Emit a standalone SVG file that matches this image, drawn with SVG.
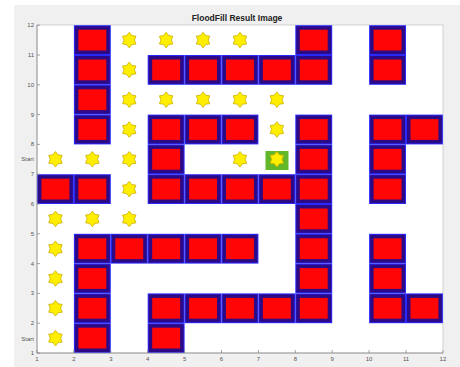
<svg xmlns="http://www.w3.org/2000/svg" xmlns:xlink="http://www.w3.org/1999/xlink" width="460" height="367" viewBox="0 0 460 367">
<style>
.tl{font-family:"Liberation Sans",Arial,sans-serif;font-size:6px;fill:#555}
.ttl{font-family:"Liberation Sans",Arial,sans-serif;font-size:8.5px;font-weight:bold;fill:#222}
.star{fill:#ffee00;stroke:#c9b000;stroke-width:0.8}
</style>
<defs>
<g id="blk">
<rect x="0" y="0" width="36.9" height="29.8" fill="#2a2aff"/>
<rect x="1" y="1" width="34.9" height="27.8" fill="#2c0a86"/>
<rect x="4.5" y="4.5" width="27.9" height="20.8" fill="#ff0505"/>
</g>
<path id="st" class="star" d="M0,-7.8 L2.6,-4.5 L6.75,-3.9 L5.2,0 L6.75,3.9 L2.6,4.5 L0,7.8 L-2.6,4.5 L-6.75,3.9 L-5.2,0 L-6.75,-3.9 L-2.6,-4.5 Z"/>
</defs>
<rect x="0" y="0" width="460" height="367" fill="#ffffff"/>
<rect x="14" y="5" width="446" height="362" fill="#f0f0f0"/>
<rect id="plot" x="37" y="25" width="406" height="328" fill="#ffffff" stroke="#c8c8c8" stroke-width="0.8"/>
<text class="ttl" x="237" y="21" text-anchor="middle">FloodFill Result Image</text>
<g id="blocks">
<use xlink:href="#blk" x="73.9" y="25.2"/><use xlink:href="#blk" x="295.3" y="25.2"/><use xlink:href="#blk" x="369.1" y="25.2"/>
<use xlink:href="#blk" x="73.9" y="55"/><use xlink:href="#blk" x="147.7" y="55"/><use xlink:href="#blk" x="184.6" y="55"/><use xlink:href="#blk" x="221.5" y="55"/><use xlink:href="#blk" x="258.4" y="55"/><use xlink:href="#blk" x="295.3" y="55"/><use xlink:href="#blk" x="369.1" y="55"/>
<use xlink:href="#blk" x="73.9" y="84.8"/>
<use xlink:href="#blk" x="73.9" y="114.6"/><use xlink:href="#blk" x="147.7" y="114.6"/><use xlink:href="#blk" x="184.6" y="114.6"/><use xlink:href="#blk" x="221.5" y="114.6"/><use xlink:href="#blk" x="295.3" y="114.6"/><use xlink:href="#blk" x="369.1" y="114.6"/><use xlink:href="#blk" x="406" y="114.6"/>
<use xlink:href="#blk" x="147.7" y="144.4"/><use xlink:href="#blk" x="295.3" y="144.4"/><use xlink:href="#blk" x="369.1" y="144.4"/>
<use xlink:href="#blk" x="37" y="174.2"/><use xlink:href="#blk" x="73.9" y="174.2"/><use xlink:href="#blk" x="147.7" y="174.2"/><use xlink:href="#blk" x="184.6" y="174.2"/><use xlink:href="#blk" x="221.5" y="174.2"/><use xlink:href="#blk" x="258.4" y="174.2"/><use xlink:href="#blk" x="295.3" y="174.2"/><use xlink:href="#blk" x="369.1" y="174.2"/>
<use xlink:href="#blk" x="295.3" y="204"/>
<use xlink:href="#blk" x="73.9" y="233.8"/><use xlink:href="#blk" x="110.8" y="233.8"/><use xlink:href="#blk" x="147.7" y="233.8"/><use xlink:href="#blk" x="184.6" y="233.8"/><use xlink:href="#blk" x="221.5" y="233.8"/><use xlink:href="#blk" x="295.3" y="233.8"/><use xlink:href="#blk" x="369.1" y="233.8"/>
<use xlink:href="#blk" x="73.9" y="263.6"/><use xlink:href="#blk" x="295.3" y="263.6"/><use xlink:href="#blk" x="369.1" y="263.6"/>
<use xlink:href="#blk" x="73.9" y="293.4"/><use xlink:href="#blk" x="147.7" y="293.4"/><use xlink:href="#blk" x="184.6" y="293.4"/><use xlink:href="#blk" x="221.5" y="293.4"/><use xlink:href="#blk" x="258.4" y="293.4"/><use xlink:href="#blk" x="295.3" y="293.4"/><use xlink:href="#blk" x="369.1" y="293.4"/><use xlink:href="#blk" x="406" y="293.4"/>
<use xlink:href="#blk" x="73.9" y="323.2"/><use xlink:href="#blk" x="147.7" y="323.2"/>
</g>
<rect id="goal" x="265.5" y="151" width="23" height="19" fill="#62b82a"/>
<g id="stars">
<use xlink:href="#st" x="129.25" y="40.1"/><use xlink:href="#st" x="166.15" y="40.1"/><use xlink:href="#st" x="203.05" y="40.1"/><use xlink:href="#st" x="239.95" y="40.1"/>
<use xlink:href="#st" x="129.25" y="69.9"/>
<use xlink:href="#st" x="129.25" y="99.7"/><use xlink:href="#st" x="166.15" y="99.7"/><use xlink:href="#st" x="203.05" y="99.7"/><use xlink:href="#st" x="239.95" y="99.7"/><use xlink:href="#st" x="276.85" y="99.7"/>
<use xlink:href="#st" x="129.25" y="129.5"/><use xlink:href="#st" x="276.85" y="129.5"/>
<use xlink:href="#st" x="55.45" y="159.3"/><use xlink:href="#st" x="92.35" y="159.3"/><use xlink:href="#st" x="129.25" y="159.3"/><use xlink:href="#st" x="239.95" y="159.3"/><use xlink:href="#st" x="276.85" y="159.3"/>
<use xlink:href="#st" x="129.25" y="189.1"/>
<use xlink:href="#st" x="55.45" y="218.9"/><use xlink:href="#st" x="92.35" y="218.9"/><use xlink:href="#st" x="129.25" y="218.9"/>
<use xlink:href="#st" x="55.45" y="248.7"/>
<use xlink:href="#st" x="55.45" y="278.5"/>
<use xlink:href="#st" x="55.45" y="308.3"/>
<use xlink:href="#st" x="55.45" y="338.1"/>
</g>
<g id="axes" stroke="#8a8a8a" stroke-width="0.8" fill="none">
<path d="M37,25 V353 H443"/>
<path d="M37,353 h3 M37,323.2 h3 M37,293.4 h3 M37,263.6 h3 M37,233.8 h3 M37,204 h3 M37,174.2 h3 M37,144.4 h3 M37,114.6 h3 M37,84.8 h3 M37,55 h3 M37,25.2 h3"/>
<path d="M37,353 v-3 M73.9,353 v-3 M110.8,353 v-3 M147.7,353 v-3 M184.6,353 v-3 M221.5,353 v-3 M258.4,353 v-3 M295.3,353 v-3 M332.2,353 v-3 M369.1,353 v-3 M406,353 v-3 M442.9,353 v-3"/>
</g>
<g id="ylabels" text-anchor="end">
<text class="tl" x="34" y="355">1</text>
<text class="tl" x="34" y="341">Start</text>
<text class="tl" x="34" y="325.2">2</text>
<text class="tl" x="34" y="295.4">3</text>
<text class="tl" x="34" y="265.6">4</text>
<text class="tl" x="34" y="235.8">5</text>
<text class="tl" x="34" y="206">6</text>
<text class="tl" x="34" y="176.2">7</text>
<text class="tl" x="34" y="161.3">Start</text>
<text class="tl" x="34" y="146.4">8</text>
<text class="tl" x="34" y="116.6">9</text>
<text class="tl" x="34" y="86.8">10</text>
<text class="tl" x="34" y="57">11</text>
<text class="tl" x="34" y="27.2">12</text>
</g>
<g id="xlabels" text-anchor="middle">
<text class="tl" x="37" y="361">1</text>
<text class="tl" x="73.9" y="361">2</text>
<text class="tl" x="110.8" y="361">3</text>
<text class="tl" x="147.7" y="361">4</text>
<text class="tl" x="184.6" y="361">5</text>
<text class="tl" x="221.5" y="361">6</text>
<text class="tl" x="258.4" y="361">7</text>
<text class="tl" x="295.3" y="361">8</text>
<text class="tl" x="332.2" y="361">9</text>
<text class="tl" x="369.1" y="361">10</text>
<text class="tl" x="406" y="361">11</text>
<text class="tl" x="442.9" y="361">12</text>
</g>
</svg>
